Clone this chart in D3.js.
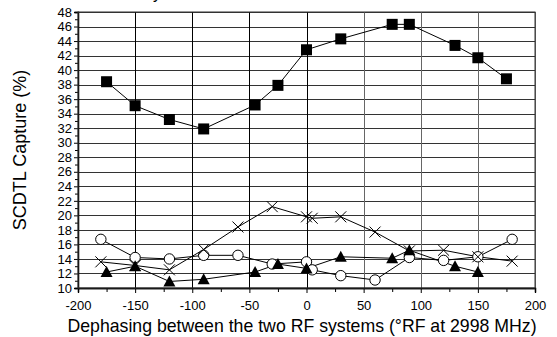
<!DOCTYPE html>
<html>
<head>
<meta charset="utf-8">
<script src="https://cdn.jsdelivr.net/npm/d3@7"></script>
<style>
  body { margin: 0; background: #fff; }
  svg { display: block; font-family: Arial, "Liberation Sans", sans-serif; }
</style>
</head>
<body>
<div id="chart"></div>
<script>
// squares (filled)
const squareX = [-175, -150, -120, -90, -45, -25, 0, 30, 75, 90, 130, 150, 175];
const squareY = [38.4, 35.1, 33.2, 31.9, 35.2, 37.9, 42.8, 44.3, 46.3, 46.3, 43.4, 41.7, 38.8];
// open circles
const circleX = [-180, -150, -120, -90, -60, -30, 0, 5, 30, 60, 90, 120, 150, 180];
const circleY = [16.7, 14.2, 14.0, 14.5, 14.5, 13.3, 13.6, 12.5, 11.7, 11.1, 14.2, 13.8, 14.3, 16.7];
// crosses
const crossX = [-180, -150, -120, -90, -60, -30, 0, 5, 30, 60, 90, 120, 150, 180];
const crossY = [13.6, 13.1, 12.5, 15.3, 18.4, 21.2, 19.8, 19.6, 19.8, 17.7, 15.1, 15.2, 14.3, 13.7];
// filled triangles
const triX = [-175, -150, -120, -90, -45, -25, 0, 30, 75, 90, 130, 150];
const triY = [12.2, 13.0, 10.9, 11.2, 12.2, 13.3, 12.7, 14.3, 14.1, 15.2, 13.0, 12.2];

const xTicks = d3.range(-200, 201, 50);
const yTicks = d3.range(10, 49, 2);

const width = 557, height = 337;
const margin = { top: 12, right: 22, bottom: 49, left: 78 };

const svg = d3.select('#chart').append('svg')
  .attr('width', width)
  .attr('height', height);

const x = d3.scaleLinear().domain([-200, 200]).range([margin.left, width - margin.right]);
const y = d3.scaleLinear().domain([10, 48]).range([height - margin.bottom, margin.top]);

const g = svg.append('g');

// grid
g.append('g').selectAll('line')
  .data(yTicks.slice(1))
  .join('line')
  .attr('x1', x(-200)).attr('x2', x(200))
  .attr('y1', d => Math.round(y(d)) + 0.5).attr('y2', d => Math.round(y(d)) + 0.5)
  .attr('stroke', '#333').attr('stroke-width', 1);

g.append('g').selectAll('line')
  .data(xTicks.slice(1))
  .join('line')
  .attr('x1', d => Math.round(x(d)) + 0.5).attr('x2', d => Math.round(x(d)) + 0.5)
  .attr('y1', y(10)).attr('y2', y(48))
  .attr('stroke', d => d > 0 ? '#666' : '#000').attr('stroke-width', 1);

// axes (plain hyphen for negatives)
const fmt = d => String(d);
const xAxis = d3.axisBottom(x).tickValues(xTicks).tickSize(5).tickPadding(8).tickFormat(fmt);
const xMinor = d3.axisBottom(x).tickValues(d3.range(-175, 200, 50)).tickSize(4).tickFormat('');
const yAxis = d3.axisLeft(y).tickValues(yTicks).tickSize(4).tickPadding(2).tickFormat(fmt);
const yMinor = d3.axisLeft(y).tickValues(d3.range(11, 48, 2)).tickSize(3).tickFormat('');

function styleAxis(sel) {
  sel.select('.domain').attr('stroke', '#000').attr('stroke-width', 1.3);
  sel.selectAll('.tick line').attr('stroke', '#000');
  sel.selectAll('text').attr('font-size', 13).attr('fill', '#000');
}

g.append('g').attr('transform', `translate(0,${y(10)})`).call(xAxis).call(styleAxis);
g.append('g').attr('transform', `translate(0,${y(10)})`).call(xMinor).call(styleAxis);
g.append('g').attr('transform', `translate(${x(-200)},0)`).call(yAxis).call(styleAxis);
g.append('g').attr('transform', `translate(${x(-200)},0)`).call(yMinor).call(styleAxis);

// frame top/right
g.append('rect')
  .attr('x', x(-200)).attr('y', y(48))
  .attr('width', x(200) - x(-200)).attr('height', y(10) - y(48))
  .attr('fill', 'none').attr('stroke', '#333').attr('stroke-width', 1);

const line = d3.line().x(d => x(d[0])).y(d => y(d[1]));

function series(xs, ys) { return xs.map((v, i) => [v, ys[i]]); }

const sq = series(squareX, squareY);
const ci = series(circleX, circleY);
const cr = series(crossX, crossY);
const tr = series(triX, triY);

[sq, ci, cr, tr].forEach(s => {
  g.append('path').datum(s).attr('d', line)
    .attr('fill', 'none').attr('stroke', '#000').attr('stroke-width', 1);
});

// markers
g.append('g').selectAll('rect').data(sq).join('rect')
  .attr('x', d => x(d[0]) - 5.5).attr('y', d => y(d[1]) - 5.5)
  .attr('width', 11).attr('height', 11).attr('fill', '#000');

g.append('g').selectAll('circle').data(ci).join('circle')
  .attr('cx', d => x(d[0])).attr('cy', d => y(d[1])).attr('r', 5.2)
  .attr('fill', '#fff').attr('stroke', '#000').attr('stroke-width', 1);

g.append('g').selectAll('path').data(cr).join('path')
  .attr('transform', d => `translate(${x(d[0])},${y(d[1])})`)
  .attr('d', 'M-5.5,-5.5L5.5,5.5M-5.5,5.5L5.5,-5.5')
  .attr('stroke', '#000').attr('stroke-width', 1).attr('fill', 'none');

g.append('g').selectAll('path').data(tr).join('path')
  .attr('transform', d => `translate(${x(d[0])},${y(d[1])})`)
  .attr('d', 'M0,-6L6,5L-6,5Z')
  .attr('fill', '#000');

// labels
svg.append('text')
  .attr('transform', `translate(26,${(y(10) + y(48)) / 2}) rotate(-90)`)
  .attr('text-anchor', 'middle')
  .attr('font-size', 18)
  .text('SCDTL Capture (%)');

svg.append('text')
  .attr('x', 302)
  .attr('y', 332)
  .attr('text-anchor', 'middle')
  .attr('font-size', 17.7)
  .text('Dephasing between the two RF systems (°RF at 2998 MHz)');

// title, cut off at the top edge as in the reference
svg.append('text')
  .attr('x', 157).attr('y', -1)
  .attr('text-anchor', 'middle')
  .attr('font-size', 16)
  .text('y');
</script>
</body>
</html>
